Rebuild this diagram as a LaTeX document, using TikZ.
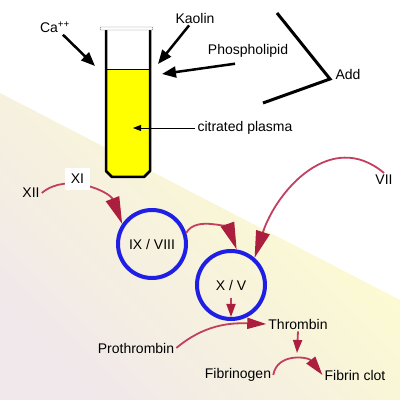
\documentclass[tikz,border=0pt]{standalone}
\usepackage{fontspec}
\setmainfont{Liberation Sans}
\usetikzlibrary{arrows.meta}
\definecolor{linered}{RGB}{196,62,96}
\definecolor{headred}{RGB}{172,30,62}
\definecolor{ringblue}{RGB}{30,30,228}
\definecolor{tubeyellow}{RGB}{255,255,0}
\definecolor{paleyellow}{RGB}{255,255,204}
\definecolor{creamyellow}{RGB}{250,247,222}
\definecolor{palepink}{RGB}{240,232,234}
\tikzset{
  txt/.style={inner sep=2pt, font=\fontsize{14}{16}\selectfont},
  factor/.style={circle, draw=ringblue, line width=4pt, minimum size=68pt,
    inner sep=0pt, font=\fontsize{14}{16}\selectfont},
  addarrow/.style={line width=2.5pt, -{Triangle[length=14pt,width=11pt]}},
  thinarrow/.style={line width=0.8pt, -{Triangle[length=8pt,width=6pt]}},
  react/.style={draw=linered, line width=1.8pt,
    -{Triangle[length=27pt,width=14pt,color=headred]}},
  midreact/.style={draw=linered, line width=1.8pt,
    -{Triangle[length=19pt,width=11pt,color=headred]}},
  smallreact/.style={draw=linered, line width=1.8pt,
    -{Triangle[length=13pt,width=9pt,color=headred]}},
}
\begin{document}
\begin{tikzpicture}[x=1pt,y=1pt]
  \useasboundingbox (0,0) rectangle (400,400);
  % Background
  \shade[top color=paleyellow, middle color=creamyellow, bottom color=palepink, shading angle=-45]
    (0,307) -- (400,100) -- (400,0) -- (0,0) -- cycle;

  % Test tube
  \fill[tubeyellow] (106,330) -- (106,229) -- (112,223) -- (144,223) -- (150,229) -- (150,330) -- cycle;
  \draw[line width=1pt] (106,330) -- (150,330);
  \draw[line width=2.5pt, line join=round]
    (106,370) -- (106,229) -- (112,223) -- (144,223) -- (150,229) -- (150,370);
  \draw[gray, fill=white, rounded corners=1pt] (100,370) rectangle (153,373);

  % Reagents
  \node[txt] (ca) at (55,373) {Ca\textsuperscript{++}};
  \node[txt] (kaolin) at (195,382) {Kaolin};
  \node[txt] (phospho) at (248,349) {Phospholipid};
  \node[txt] (plasma) at (245,272) {citrated plasma};
  \node[txt] (add) at (348,326) {Add};

  \coordinate (caend) at (95,334);
  \coordinate (kaolinend) at (158,336);
  \coordinate (phosphoend) at (162,326);
  \coordinate (plasmaend) at (133,272);

  \draw[addarrow] (ca) -- (caend);
  \draw[addarrow] (kaolin) -- (kaolinend);
  \draw[addarrow] ([shift={(-13,-4)}]phospho.south) -- (phosphoend);
  \draw[thinarrow] (plasma.west) -- (plasmaend);
  \draw[line width=3pt] (277,387) -- (330,321) -- (263,297);

  % Cascade
  \node[txt] (xii) at (31,207) {XII};
  \node[factor] (ix) at (152,156) {IX / VIII};
  \node[factor] (xv) at (231,115) {X / V};
  \node[txt] (vii) at (384,220) {VII};
  \node[txt] (prothrombin) at (136,52) {Prothrombin};
  \node[txt] (thrombin) at (298,76) {Thrombin};
  \node[txt] (fibrinogen) at (238,25) {Fibrinogen};
  \node[txt] (fibrin) at (355,25) {Fibrin clot};
  \coordinate (fibpeak) at (297,47);

  \draw[react] (xii.east) to[out=40, in=111] (ix.146);
  \node[txt, fill=white, minimum width=25pt, minimum height=22pt] (xi) at (77.5,221) {XI};
  \draw[react] (ix.18) to[out=60, in=110] (xv.81);
  \draw[react] (vii.north) to[out=140, in=72, looseness=1.15] (xv.49);
  \draw[smallreact] ([yshift=-13pt]xv.center) -- ([yshift=4pt]xv.south);
  \draw[midreact] (prothrombin.east) to[out=40, in=178] (thrombin.west);
  \draw[smallreact] (thrombin.south) -- (fibpeak);
  \draw[midreact] (fibrinogen.east) to[out=80, in=128, looseness=1.2] (fibrin.west);
\end{tikzpicture}
\end{document}
